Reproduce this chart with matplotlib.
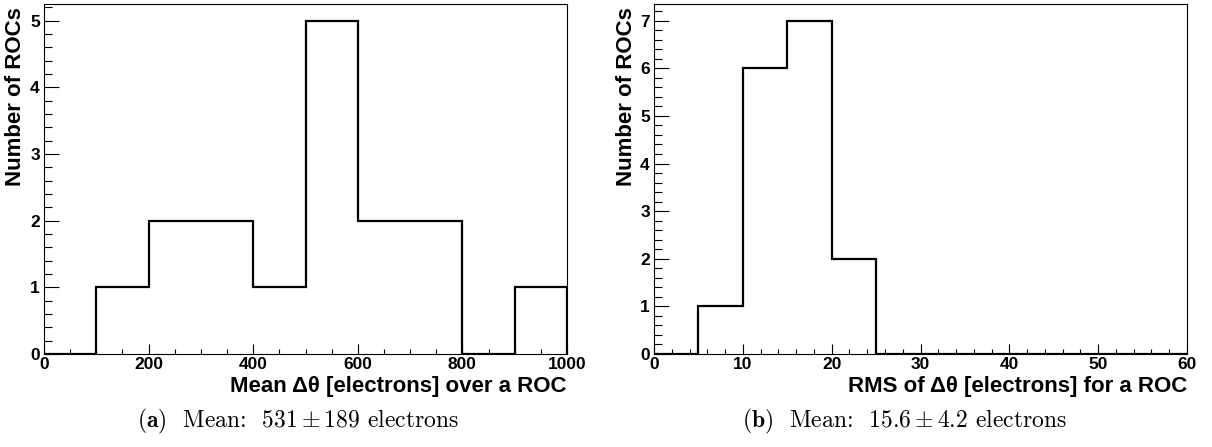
import matplotlib
matplotlib.use("Agg")
import matplotlib.pyplot as plt
from matplotlib.ticker import MultipleLocator
import numpy as np

plt.rcParams['font.family'] = ['Liberation Sans', 'DejaVu Sans']
plt.rcParams['mathtext.fontset'] = 'cm'

# histogram (a): mean delta theta per ROC
edges_a = np.arange(0, 1001, 100)
counts_a = [0, 1, 2, 2, 1, 5, 2, 2, 0, 1]
# histogram (b): RMS of delta theta per ROC
edges_b = np.arange(0, 61, 5)
counts_b = [0, 1, 6, 7, 2, 0, 0, 0, 0, 0, 0, 0]

xlabel_a = "Mean Δθ [electrons] over a ROC"
xlabel_b = "RMS of Δθ [electrons] for a ROC"
ylabel = "Number of ROCs"
caption_a = r"$\mathbf{(a)}$  Mean:  $531\pm189$ electrons"
caption_b = r"$\mathbf{(b)}$  Mean:  $15.6\pm4.2$ electrons"

W, H = 1212, 447
fig = plt.figure(figsize=(W / 100, H / 100), dpi=100)

# axes boxes in pixels: left, right ; top=4, bottom=354
boxes = [(44, 567), (654, 1187)]
top, bottom = 4, 354


def px(x, y):
    return x / W, 1 - y / H


def draw(box, edges, counts, xmaj, xmin, xlabel, caption, cap_x):
    l, r = box
    ax = fig.add_axes([l / W, 1 - bottom / H, (r - l) / W, (bottom - top) / H])
    ax.stairs(counts, edges, color='black', lw=1.6)
    ax.set_xlim(edges[0], edges[-1])
    ax.set_ylim(0, 1.05 * max(counts))
    ax.xaxis.set_major_locator(MultipleLocator(xmaj))
    ax.xaxis.set_minor_locator(MultipleLocator(xmin))
    ax.yaxis.set_major_locator(MultipleLocator(1))
    ax.yaxis.set_minor_locator(MultipleLocator(0.2))
    ax.tick_params(which='both', direction='in', top=False, right=False,
                   labelsize=12.5, width=0.8)
    # ROOT style: tick length is a fraction of the other axis size
    ax.tick_params(axis='y', which='major', length=11, pad=3)
    ax.tick_params(axis='y', which='minor', length=6)
    ax.tick_params(axis='x', which='major', length=7.5, pad=2)
    ax.tick_params(axis='x', which='minor', length=3.5)
    for lbl in ax.get_xticklabels() + ax.get_yticklabels():
        lbl.set_fontweight('bold')
    for sp in ax.spines.values():
        sp.set_linewidth(0.8)

    fig.text(*px(r, 392), xlabel, ha='right', va='baseline',
             fontsize=16, fontweight='bold')
    fig.text(*px(l - 28, 7), ylabel, ha='center', va='top', rotation=90,
             fontsize=16, fontweight='bold')
    fig.text(*px(cap_x, 427), caption, ha='center', va='baseline',
             fontsize=17, family='cmr10')
    return ax


draw(boxes[0], edges_a, counts_a, 200, 50, xlabel_a, caption_a, 298)
draw(boxes[1], edges_b, counts_b, 10, 2, xlabel_b, caption_b, 904)

fig.savefig("out.png", dpi=100)
